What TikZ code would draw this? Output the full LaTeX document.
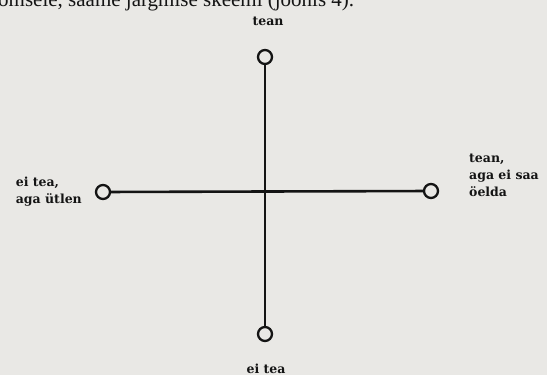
\documentclass[tikz,border=0pt]{standalone}
\usepackage{fontspec}
\setmainfont{Liberation Serif}
\newfontfamily\labelfont{DejaVu Serif}
\definecolor{paper}{RGB}{233,232,229}
\definecolor{ink}{RGB}{20,20,20}
\tikzset{
    endring/.style={circle, draw=ink, line width=2.3pt, minimum size=14pt, inner sep=0pt},
    axisline/.style={draw=ink, line width=2.6pt},
    axislabel/.style={font=\labelfont\bfseries\fontsize{12.5}{17}\selectfont, text=ink, align=left, inner sep=0pt}
}
\begin{document}
\begin{tikzpicture}[x=1pt, y=-1pt]
    \fill[color=paper] (0,0) rectangle (547,375);
    \useasboundingbox (0,0) rectangle (547,375);
    \begin{scope}
    \clip (0,0) rectangle (547,375);
    \node[anchor=base west, inner sep=0pt, font=\fontsize{21}{24}\selectfont, text=ink] (caption) at (-2,6) {omsele, saame järgmise skeemi (joonis 4).};
    \end{scope}
    \node[endring] (top) at (265,57) {};
    \node[endring] (bot) at (265,334) {};
    \node[endring] (lft) at (103,192) {};
    \node[endring] (rgt) at (431,191) {};
    \draw[axisline] (top) -- (bot);
    \draw[axisline] (lft) -- (rgt);
    \node[axislabel, anchor=base] (toplabel) at (268,25) {tean};
    \node[axislabel, anchor=base] (botlabel) at (266,373) {ei tea};
    \node[axislabel, anchor=east] (lftlabel) at (82,192) {ei tea,\\aga ütlen};
    \node[axislabel, anchor=west] (rgtlabel) at (469,175) {tean,\\aga ei saa\\öelda};
\end{tikzpicture}
\end{document}
